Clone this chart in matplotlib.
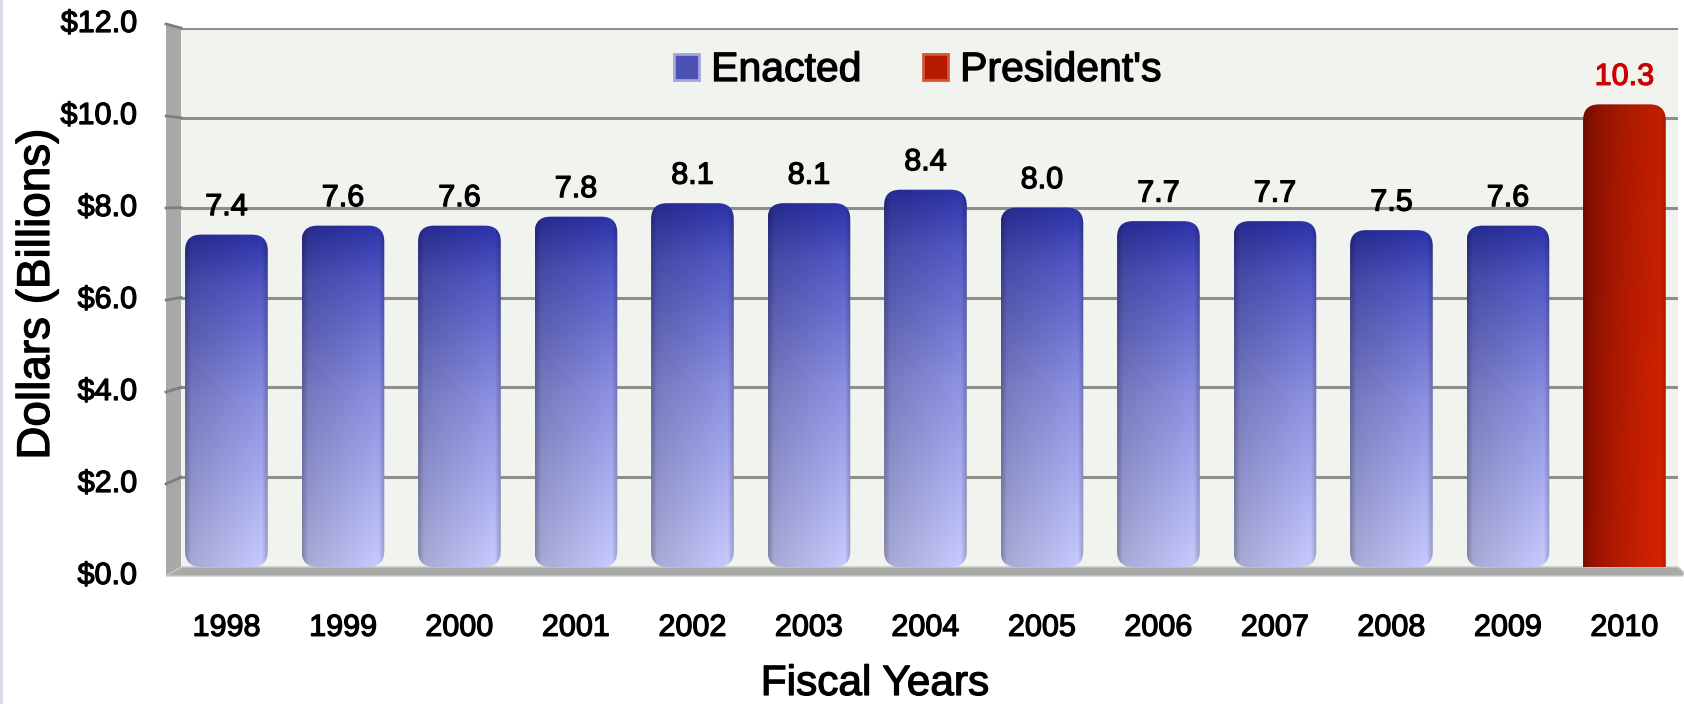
import numpy as np
import matplotlib
matplotlib.use("Agg")
import matplotlib.pyplot as plt
import matplotlib.patheffects as pe
from matplotlib.patches import FancyBboxPatch, Polygon, Rectangle, Patch
from matplotlib.transforms import blended_transform_factory
from matplotlib.colors import to_rgb

# ---------------- data ----------------
years = ['1998', '1999', '2000', '2001', '2002', '2003', '2004',
         '2005', '2006', '2007', '2008', '2009', '2010']
enacted = [7.4, 7.6, 7.6, 7.8, 8.1, 8.1, 8.4, 8.0, 7.7, 7.7, 7.5, 7.6]
presidents = [10.3]
y_ticks = [0, 2, 4, 6, 8, 10, 12]
y_tick_labels = ['$0.0', '$2.0', '$4.0', '$6.0', '$8.0', '$10.0', '$12.0']
series_names = ['Enacted', "President's"]

plt.rcParams['font.family'] = ['Liberation Sans', 'DejaVu Sans']

W, H = 1684, 704
fig = plt.figure(figsize=(W / 100, H / 100), dpi=100)
fig.patch.set_facecolor('white')
fig.patches.append(Rectangle((0, 0), 3 / W, 1, transform=fig.transFigure,
                             facecolor='#dcdce8', edgecolor='none'))

ax_l, ax_b, ax_w, ax_h = 181, 567, 1497, 539   # pixels (top-left origin for b)
ax = fig.add_axes([ax_l / W, (H - ax_b) / H, ax_w / W, ax_h / H])
ax.set_facecolor('#f0f3ee')

xlim = (-0.39, 12.46)
ylim = (0, 12)
px_x = ax_w / (xlim[1] - xlim[0])
px_y = ax_h / (ylim[1] - ylim[0])

heavy = [pe.withStroke(linewidth=0.9, foreground='black')]
heavy_red = [pe.withStroke(linewidth=0.9, foreground='#cc0000')]

x = np.arange(len(years))
vals = enacted + presidents
bar_w = 0.71

# gridlines on back wall
for v in y_ticks[1:]:
    ax.axhline(v, color='#8e8f8c', lw=2.2, zorder=1)

# 3D left wall and floor (front scale)
front_dx = -15 / ax_w
front_px = 46.0
front_zero = 9  # px below back zero
blend = blended_transform_factory(ax.transAxes, ax.transData)

def front_y(v):
    return (-front_zero + front_px * v) / px_y

wall = Polygon([(front_dx, front_y(12)), (0, 12), (0, 0), (front_dx, front_y(0))],
               closed=True, transform=blend, facecolor='#a6a9a5',
               edgecolor='none', clip_on=False, zorder=2)
ax.add_patch(wall)
for v in y_ticks[1:]:
    ax.plot([front_dx, 0], [front_y(v), v], transform=blend, color='#7d7f7c',
            lw=2, clip_on=False, zorder=2.1)

floor = Polygon([(front_dx, front_y(0)), (0, 0), (1.0, 0), (1.004, front_y(0) * 0.6),
                 (1.003, front_y(0))],
                closed=True, transform=blend, facecolor='#a8aaa7',
                edgecolor='#c8cac6', lw=1, clip_on=False, zorder=2)
ax.add_patch(floor)

# y tick labels on the front edge of the wall
for v, lab in zip(y_ticks, y_tick_labels):
    ax.text((137 - ax_l) / ax_w, front_y(v), lab, transform=blend, ha='right',
            va='center', fontsize=22, path_effects=heavy, clip_on=False)

# ---------------- gradients ----------------
def blue_grad(n=100):
    t = np.linspace(0, 1, n)                     # 0 bottom -> 1 top
    stops_t = [0.0, 0.5, 0.85, 1.0]
    stops_c = [to_rgb('#b7bae9'), to_rgb('#8185d0'), to_rgb('#4c51b6'), to_rgb('#2a2f9c')]
    col = np.stack([np.interp(t, stops_t, [c[k] for c in stops_c]) for k in range(3)], -1)
    s = np.linspace(0, 1, n)[None, :]
    light = 0.9 + 0.2 * s
    arr = col[:, None, :] * light[..., None]
    rim = np.clip((s - 0.93) / 0.07, 0, 1)
    arr = arr * (1 - 0.22 * rim[..., None])
    edge = np.clip((0.07 - s) / 0.07, 0, 1)
    arr = arr * (1 - 0.2 * edge[..., None])
    return np.clip(arr, 0, 1)

def red_grad(n=100):
    t = np.linspace(0, 1, n)[:, None]
    s = np.linspace(0, 1, n)[None, :]
    left = np.array(to_rgb('#700900'))
    right = np.array(to_rgb('#d42200'))
    ss = np.clip(s / 0.9, 0, 1) ** 0.5
    base = left[None, None, :] * (1 - ss[..., None]) + right[None, None, :] * ss[..., None]
    shade = 1.0 - 0.1 * t
    arr = base * shade[..., None]
    rim = np.clip((s - 0.95) / 0.05, 0, 1)
    arr = arr * (1 - 0.15 * rim[..., None])
    return np.clip(np.broadcast_to(arr, (n, n, 3)), 0, 1)

bars = ax.bar(x, vals, width=bar_w, color='none', zorder=3)
r_x = 16 / px_x
aspect = px_x / px_y
for i, rect in enumerate(bars.patches):
    bx, by, bw, bh = rect.get_x(), rect.get_y(), rect.get_width(), rect.get_height()
    rect.set_visible(False)
    is_pres = i >= len(enacted)
    y0 = by - (r_x * aspect if is_pres else 0)
    box = FancyBboxPatch((bx, y0), bw, bh - (y0 - by),
                         boxstyle=f"round,pad=0,rounding_size={r_x}",
                         mutation_aspect=aspect, facecolor='none',
                         edgecolor='none', zorder=3)
    ax.add_patch(box)
    grad = red_grad() if is_pres else blue_grad()
    im = ax.imshow(grad, extent=[bx, bx + bw, y0, by + bh], origin='lower',
                   aspect='auto', interpolation='bilinear', zorder=3)
    im.set_clip_path(box)
    ax.annotate(f"{vals[i]:.1f}", (bx + bw / 2, by + bh), xytext=(0, 9),
                textcoords='offset points', ha='center', va='bottom',
                fontsize=22, color='#cc0000' if is_pres else 'black', zorder=5,
                path_effects=heavy_red if is_pres else heavy)

ax.set_xlim(*xlim)
ax.set_ylim(*ylim)
ax.set_xticks(x)
ax.set_xticklabels(years, fontsize=22)
for t in ax.get_xticklabels():
    t.set_path_effects(heavy)
ax.tick_params(axis='x', length=0, pad=33)
ax.set_yticks(y_ticks)
ax.tick_params(axis='y', length=0, labelleft=False)
for sp in ax.spines.values():
    sp.set_visible(False)

ax.set_xlabel('Fiscal Years', fontsize=30.5, path_effects=heavy)
ax.xaxis.set_label_coords((875 - ax_l) / ax_w, (ax_b - 684) / ax_h)
ax.xaxis.label.set_va('center')
ax.set_ylabel('Dollars (Billions)', fontsize=33, path_effects=heavy)
ax.yaxis.set_label_coords((37 - ax_l) / ax_w, (ax_b - 294) / ax_h)
ax.yaxis.label.set_va('center')

handles = [Patch(facecolor='#4c51b4', edgecolor='#a2a5de', lw=2),
           Patch(facecolor='#b41a00', edgecolor='#d8553a', lw=2)]
leg = ax.legend(handles, series_names, loc='center',
                bbox_to_anchor=((918 - ax_l) / ax_w, (ax_b - 70) / ax_h),
                ncol=2, frameon=False, fontsize=29.5, handlelength=0.6,
                handleheight=0.6, handletextpad=0.3, columnspacing=1.5)
for t in leg.get_texts():
    t.set_path_effects(heavy)
leg.set_zorder(6)

fig.savefig('out.png', dpi=100)
